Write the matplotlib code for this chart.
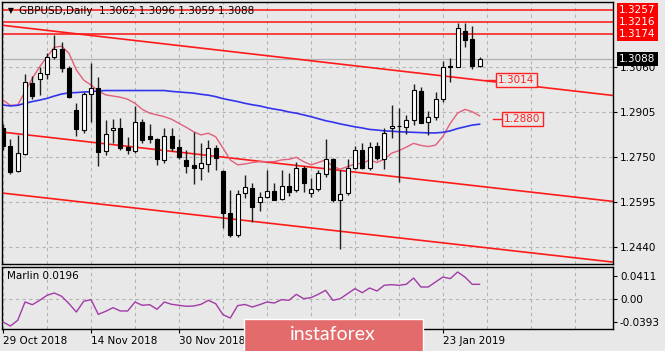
import numpy as np
import matplotlib
matplotlib.use("Agg")
import matplotlib.pyplot as plt
import matplotlib.transforms as mtransforms
from matplotlib.patches import Rectangle

# ---------------- data ----------------
title_text = "GBPUSD,Daily  1.3062 1.3096 1.3059 1.3088"
opens = [1.2849, 1.2789, 1.2703, 1.2759, 1.3004, 1.3018, 1.3035, 1.3096, 1.3121, 1.3058,
         1.2912, 1.2843, 1.2967, 1.2987, 1.2771, 1.2843, 1.2850, 1.2786, 1.2771, 1.2872,
         1.2821, 1.2813, 1.2740, 1.2822, 1.2786, 1.2740, 1.2722, 1.2713, 1.2726, 1.2780,
         1.2702, 1.2556, 1.2481, 1.2625, 1.2644, 1.2596, 1.2613, 1.2633, 1.2605, 1.2651,
         1.2636, 1.2711, 1.2625, 1.2639, 1.2692, 1.2742, 1.2602, 1.2625, 1.2713, 1.2774,
         1.2711, 1.2788, 1.2742, 1.2849, 1.2858, 1.2854, 1.2878, 1.2978, 1.2870, 1.2887,
         1.2950, 1.3063, 1.3059, 1.3184, 1.3156, 1.3062]
highs = [1.2864, 1.2811, 1.2826, 1.3035, 1.3030, 1.3061, 1.3107, 1.3170, 1.3147, 1.3064,
         1.2935, 1.2975, 1.3073, 1.3027, 1.2878, 1.2881, 1.2883, 1.2818, 1.2926, 1.2880,
         1.2863, 1.2815, 1.2849, 1.2849, 1.2811, 1.2774, 1.2837, 1.2797, 1.2809, 1.2791,
         1.2705, 1.2636, 1.2636, 1.2688, 1.2662, 1.2631, 1.2705, 1.2662, 1.2705, 1.2694,
         1.2734, 1.2720, 1.2677, 1.2705, 1.2811, 1.2745, 1.2705, 1.2742, 1.2788, 1.2799,
         1.2803, 1.2803, 1.2849, 1.2929, 1.2918, 1.2895, 1.3002, 1.2992, 1.2910, 1.2975,
         1.3081, 1.3092, 1.3213, 1.3211, 1.3201, 1.3096]
lows = [1.2774, 1.2692, 1.2698, 1.2757, 1.2950, 1.2963, 1.3018, 1.3088, 1.3044, 1.2954,
        1.2822, 1.2832, 1.2872, 1.2719, 1.2757, 1.2797, 1.2774, 1.2759, 1.2765, 1.2799,
        1.2797, 1.2722, 1.2730, 1.2771, 1.2742, 1.2696, 1.2656, 1.2671, 1.2699, 1.2705,
        1.2504, 1.2476, 1.2476, 1.2608, 1.2527, 1.2565, 1.2608, 1.2602, 1.2602, 1.2616,
        1.2631, 1.2631, 1.2613, 1.2634, 1.2682, 1.2596, 1.2432, 1.2619, 1.2708, 1.2708,
        1.2705, 1.2740, 1.2708, 1.2815, 1.2665, 1.2829, 1.2860, 1.2866, 1.2826, 1.2878,
        1.2941, 1.3009, 1.3059, 1.3130, 1.3052, 1.3059]
closes = [1.2788, 1.2699, 1.2763, 1.3008, 1.2960, 1.3038, 1.3096, 1.3121, 1.3056, 1.2958,
          1.2846, 1.2967, 1.2987, 1.2768, 1.2828, 1.2851, 1.2782, 1.2774, 1.2872, 1.2809,
          1.2811, 1.2742, 1.2822, 1.2782, 1.2749, 1.2719, 1.2711, 1.2730, 1.2780, 1.2746,
          1.2556, 1.2481, 1.2623, 1.2648, 1.2579, 1.2613, 1.2634, 1.2602, 1.2651, 1.2631,
          1.2713, 1.2659, 1.2639, 1.2694, 1.2742, 1.2602, 1.2622, 1.2713, 1.2774, 1.2711,
          1.2783, 1.2746, 1.2834, 1.2857, 1.2856, 1.2878, 1.2981, 1.2868, 1.2887, 1.2950,
          1.3061, 1.3060, 1.3193, 1.3153, 1.3064, 1.3088]
ma_fast = [1.2946, 1.2928, 1.2929, 1.2975, 1.3021, 1.3061, 1.3096, 1.3128, 1.3132, 1.3107,
           1.3050, 1.3015, 1.2998, 1.2978, 1.2964, 1.2960, 1.2956, 1.2949, 1.2935, 1.2914,
           1.2901, 1.2895, 1.2889, 1.2880, 1.2866, 1.2852, 1.2837, 1.2826, 1.2832, 1.2820,
           1.2781, 1.2740, 1.2723, 1.2726, 1.2731, 1.2734, 1.2734, 1.2734, 1.2740, 1.2742,
           1.2749, 1.2734, 1.2723, 1.2731, 1.2740, 1.2717, 1.2708, 1.2717, 1.2726, 1.2728,
           1.2740, 1.2731, 1.2742, 1.2763, 1.2772, 1.2784, 1.2797, 1.2790, 1.2786, 1.2791,
           1.2821, 1.2866, 1.2901, 1.2914, 1.2906, 1.2892]
ma_slow = [1.2929, 1.2926, 1.2928, 1.2935, 1.2941, 1.2946, 1.2952, 1.2960, 1.2967, 1.2971,
           1.2972, 1.2974, 1.2975, 1.2978, 1.2979, 1.2979, 1.2979, 1.2979, 1.2979, 1.2979,
           1.2979, 1.2979, 1.2979, 1.2976, 1.2974, 1.2972, 1.2970, 1.2966, 1.2963, 1.2958,
           1.2951, 1.2946, 1.2941, 1.2935, 1.2930, 1.2926, 1.2920, 1.2915, 1.2911, 1.2905,
           1.2901, 1.2895, 1.2889, 1.2882, 1.2875, 1.2870, 1.2864, 1.2859, 1.2854, 1.2850,
           1.2845, 1.2843, 1.2840, 1.2839, 1.2837, 1.2836, 1.2835, 1.2834, 1.2833, 1.2833,
           1.2835, 1.2840, 1.2848, 1.2854, 1.2860, 1.2863]
marlin = [-0.0397, -0.0467, -0.0368, -0.0047, -0.0094, -0.0018, 0.0070, 0.0110, 0.0052, -0.0076,
          -0.0222, -0.0035, -0.0006, -0.0263, -0.0210, -0.0146, -0.0204, -0.0204, -0.0047, -0.0105,
          -0.0094, -0.0175, -0.0047, -0.0088, -0.0105, -0.0122, -0.0117, -0.0088, -0.0018, -0.0076,
          -0.0269, -0.0327, -0.0110, -0.0090, -0.0135, -0.0094, -0.0047, -0.0065, -0.0006, -0.0018,
          0.0087, 0.0011, 0.0029, 0.0087, 0.0157, -0.0018, 0.0011, 0.0099, 0.0186, 0.0116,
          0.0198, 0.0145, 0.0245, 0.0256, 0.0245, 0.0262, 0.0372, 0.0215, 0.0215, 0.0303,
          0.0390, 0.0361, 0.0477, 0.0390, 0.0262, 0.0262]
marlin_label = "Marlin 0.0196"

channel_x = [-0.14, 83.2]
channel_upper = [1.3204, 1.2962]
channel_mid = [1.2836, 1.2597]
channel_low = [1.2626, 1.2388]
resistance_levels = [1.3257, 1.3216, 1.3174]
current_price = 1.3088
annot_levels = [1.3014, 1.2880]
price_ticks = [1.2440, 1.2595, 1.2750, 1.2905, 1.3060]
marlin_ticks = [-0.0393, 0.0, 0.0411]
marlin_ticklabels = ["-0.0393", "0.00", "0.0411"]
date_idx = [0, 12, 24, 36, 48, 60]
# labels at 36 and 48 are hidden behind the watermark in the reference
date_labels = ["29 Oct 2018", "14 Nov 2018", "30 Nov 2018", "", "", "23 Jan 2019"]

# ---------------- figure ----------------
BG = "#E8E8E8"
GRID = "#B4B4B4"
W, H = 665, 351
fig = plt.figure(figsize=(W / 100, H / 100), dpi=100, facecolor=BG)
ax = fig.add_axes([2 / W, (H - 264) / H, 611 / W, 262 / H], facecolor=BG)
ax2 = fig.add_axes([2 / W, (H - 329) / H, 611 / W, 62 / H], facecolor=BG)

x = np.arange(len(opens))
o = np.array(opens); c = np.array(closes); hi = np.array(highs); lo = np.array(lows)

for a in (ax, ax2):
    a.set_xlim(channel_x[0], channel_x[1])
    for k in range(0, 84, 6):
        a.axvline(k, color=GRID, ls=(0, (3, 3)), lw=0.8, zorder=0)
    for s in a.spines.values():
        s.set_color("black"); s.set_linewidth(1)

ax.set_ylim(1.23814, 1.32840)
ax2.set_ylim(-0.05192, 0.05647)

for p in price_ticks:
    ax.axhline(p, color=GRID, ls=(0, (3, 3)), lw=0.8, zorder=0)
ax2.axhline(0, color=GRID, ls=(0, (3, 3)), lw=0.8, zorder=0)

# levels
for lv in resistance_levels:
    ax.axhline(lv, color="#FF1010", lw=1.1, zorder=1)
ax.axhline(current_price, color="#B0B0B0", lw=0.9, zorder=1)

# channel
for ch in (channel_upper, channel_mid, channel_low):
    ax.plot(channel_x, ch, color="#FF1A1A", lw=1.2, zorder=1, solid_capstyle="butt")

# moving averages
ax.plot(x, ma_fast, color="#E2607A", lw=1.0, zorder=2)
ax.plot(x, ma_slow, color="#3434EC", lw=1.2, zorder=2)

# candles
up = c >= o
ax.vlines(x, lo, hi, color="#1E1E1E", lw=1.0, zorder=3)
ax.bar(x, np.maximum(np.abs(c - o), 0.00012), 0.55, np.minimum(o, c),
       color=np.where(up, "white", "black"), edgecolor="black", linewidth=0.8, zorder=4)

# annotations
ax.plot([65.9, 67.3], [annot_levels[0]] * 2, color="#FF2020", lw=1, zorder=5)
ax.text(67.55, annot_levels[0], f"{annot_levels[0]:.4f}", ha="left", va="center", fontsize=7.5,
        color="#FF2020", zorder=6,
        bbox=dict(boxstyle="square,pad=0.2", fc=BG, ec="#FF2020", lw=1))
ax.plot([66.8, 68.1], [annot_levels[1]] * 2, color="#FF2020", lw=1, zorder=5)
ax.text(68.35, annot_levels[1], f"{annot_levels[1]:.4f}", ha="left", va="center", fontsize=7.5,
        color="#FF2020", zorder=6,
        bbox=dict(boxstyle="square,pad=0.2", fc=BG, ec="#FF2020", lw=1))

# y axis (main)
ax.yaxis.tick_right()
ax.set_yticks(price_ticks)
ax.set_yticklabels([f"{p:.4f}" for p in price_ticks])
ax.tick_params(axis="y", length=3, pad=2, labelsize=7.5, direction="out", colors="black")
ax.set_xticks([])

blend = mtransforms.blended_transform_factory(ax.transAxes, ax.transData)
for lv in resistance_levels:
    ax.text(1.0098, lv, f"{lv:.4f}", transform=blend, ha="left", va="center", fontsize=7.5,
            color="white", clip_on=False, zorder=10,
            bbox=dict(boxstyle="square,pad=0.22", fc="#FF0000", ec="none"))
ax.text(1.0098, current_price, f"{current_price:.4f}", transform=blend, ha="left", va="center",
        fontsize=7.5, color="white", clip_on=False, zorder=10,
        bbox=dict(boxstyle="square,pad=0.22", fc="black", ec="none"))

# title
ax.text(6 / 611, 1 - 9 / 262, "\u25BC", transform=ax.transAxes, fontsize=5.5, va="center", ha="left",
        zorder=10)
ax.text(17 / 611, 1 - 9 / 262, title_text, transform=ax.transAxes, fontsize=7.5, va="center",
        ha="left", zorder=10)

# lower panel
ax2.plot(x, marlin, color="#A23AA8", lw=1.0, zorder=3)
ax2.yaxis.tick_right()
ax2.set_yticks(marlin_ticks)
ax2.set_yticklabels(marlin_ticklabels)
ax2.tick_params(axis="y", length=3, pad=2, labelsize=7.5, direction="out")
ax2.set_xticks(date_idx)
ax2.set_xticklabels(date_labels)
ax2.tick_params(axis="x", length=3, pad=2, labelsize=7.5, direction="out")
for lab in ax2.get_xticklabels():
    lab.set_ha("left")
ax2.text(5 / 611, 1 - 9 / 62, marlin_label, transform=ax2.transAxes, fontsize=7.5, va="center",
         ha="left")

# watermark logo
fig.add_artist(Rectangle((244 / W, -0.01), 179 / W, 32 / H + 0.01, transform=fig.transFigure,
                         fc="#E46B6C", ec="white", lw=1, zorder=20))
fig.text(333 / W, (H - 334) / H, "instaforex", color="white", fontsize=14, family="Lato",
         ha="center", va="center", zorder=21)

fig.savefig("out.png", dpi=100, facecolor=BG)
